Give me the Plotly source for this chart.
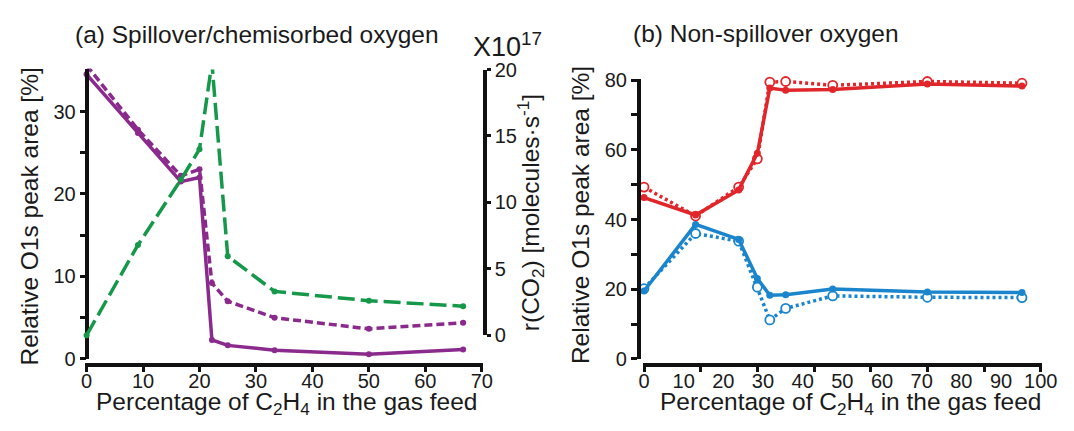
import plotly.graph_objects as go

# ---- data ----
x_feed = [0, 9.1, 16.7, 20, 22.2, 25, 33.3, 50, 66.7]

spill_solid = [34.5, 27.4, 21.5, 22.0, 2.3, 1.65, 1.07, 0.58, 1.15]
spill_dash = [35.6, 27.8, 22.2, 23.0, 9.2, 7.0, 5.0, 3.65, 4.4]
rco2 = [0.0, 6.8, 11.7, 14.0, 20.5, 5.95, 3.3, 2.6, 2.19]

red_solid = [46.3, 41.3, 48.5, 59.0, 77.7, 77.1, 77.3, 78.9, 78.3]
red_dot = [49.3, 41.0, 49.3, 57.4, 79.4, 79.6, 78.5, 79.6, 79.1]
blue_solid = [19.5, 38.6, 34.3, 23.1, 18.3, 18.4, 20.1, 19.2, 19.1]
blue_dot = [20.2, 36.0, 33.8, 20.6, 11.2, 14.5, 18.1, 17.7, 17.6]

xa_ticks = [0, 10, 20, 30, 40, 50, 60, 70]
ya_ticks = [0, 5, 10, 15, 20, 25, 30]
ya_text = ["0", "", "10", "", "20", "", "30"]
y2_ticks = [0, 5, 10, 15, 20]
yb_ticks = [0, 10, 20, 30, 40, 50, 60, 70, 80]
yb_text = ["0", "", "20", "", "40", "", "60", "", "80"]
xb_label_ticks = [0, 10, 20, 30, 40, 50, 60, 70, 80, 90, 100]

PURPLE = "#8a2a8c"
GREEN = "#16984a"
RED = "#e0262a"
BLUE = "#1a85cc"
FONT = "Liberation Sans, Arial, sans-serif"
TXT = "#1a1a1a"

W, H = 1074, 431
def px(x):
    return x / W
def py(y):
    return (H - y) / H

fig = go.Figure()

# left panel
fig.add_trace(go.Scatter(x=x_feed, y=spill_dash, xaxis="x", yaxis="y", mode="lines+markers",
                         line=dict(color=PURPLE, width=3.5, dash="8px,4px"), marker=dict(size=6, color=PURPLE),
                         cliponaxis=False, showlegend=False))
fig.add_trace(go.Scatter(x=x_feed, y=spill_solid, xaxis="x", yaxis="y", mode="lines+markers",
                         line=dict(color=PURPLE, width=3.5), marker=dict(size=6, color=PURPLE),
                         cliponaxis=False, showlegend=False))
fig.add_trace(go.Scatter(x=x_feed, y=rco2, xaxis="x", yaxis="y2", mode="lines+markers",
                         line=dict(color=GREEN, width=3.5, dash="17px,6px"), marker=dict(size=6, color=GREEN),
                         cliponaxis=False, showlegend=False))

# right panel
fig.add_trace(go.Scatter(x=x_feed, y=red_dot, xaxis="x3", yaxis="y3", mode="lines+markers",
                         line=dict(color=RED, width=3.5, dash="3px,3px"),
                         marker=dict(size=9, color="white", line=dict(color=RED, width=1.8)),
                         cliponaxis=False, showlegend=False))
fig.add_trace(go.Scatter(x=x_feed, y=red_solid, xaxis="x3", yaxis="y3", mode="lines+markers",
                         line=dict(color=RED, width=3.5), marker=dict(size=7, color=RED),
                         cliponaxis=False, showlegend=False))
fig.add_trace(go.Scatter(x=x_feed, y=blue_dot, xaxis="x3", yaxis="y3", mode="lines+markers",
                         line=dict(color=BLUE, width=3.5, dash="3px,3px"),
                         marker=dict(size=9, color="white", line=dict(color=BLUE, width=1.8)),
                         cliponaxis=False, showlegend=False))
fig.add_trace(go.Scatter(x=x_feed, y=blue_solid, xaxis="x3", yaxis="y3", mode="lines+markers",
                         line=dict(color=BLUE, width=3.5), marker=dict(size=7, color=BLUE),
                         cliponaxis=False, showlegend=False))
# invisible traces to activate the tick-label axes
fig.add_trace(go.Scatter(x=[0, 70], y=[None, None], xaxis="x5", yaxis="y", mode="lines",
                         showlegend=False, hoverinfo="skip"))
fig.add_trace(go.Scatter(x=[0, 100], y=[None, None], xaxis="x4", yaxis="y3", mode="lines",
                         showlegend=False, hoverinfo="skip"))

tickfont = dict(family=FONT, size=20, color=TXT)
axline = dict(showline=True, linecolor="#111", linewidth=3.5, showgrid=False, zeroline=False,
              ticks="outside", tickcolor="#111", tickwidth=3, tickfont=tickfont)
labelaxis = dict(showline=False, showgrid=False, zeroline=False, ticks="", ticklabelstandoff=2,
                 tickfont=tickfont, anchor="free", position=py(373.3))

fig.update_layout(
    width=W, height=H,
    margin=dict(l=0, r=0, t=0, b=0),
    paper_bgcolor="white", plot_bgcolor="rgba(0,0,0,0)",
    font=dict(family=FONT, color=TXT),
    xaxis=dict(domain=[px(83), px(488)], range=[-0.2, 70.2], anchor="free", position=py(373.3),
               tickvals=xa_ticks, showticklabels=False, ticklen=5, **axline),
    xaxis5=dict(overlaying="x", range=[-0.2, 70.2], tickvals=xa_ticks, **labelaxis),
    yaxis=dict(domain=[py(366.7), py(60.7)], range=[0, 35.2], anchor="free", position=px(85),
               tickvals=ya_ticks, ticktext=ya_text, ticklen=6, **axline),
    yaxis2=dict(domain=[py(341.7), py(61.7)], range=[0, 20], anchor="x", side="right",
                tickvals=y2_ticks, ticklen=4, **axline),
    xaxis3=dict(domain=[px(651), px(1057.5)], range=[-0.2, 70.2], anchor="free", position=py(373.3),
                tickvals=xa_ticks, showticklabels=False, ticklen=5, **axline),
    xaxis4=dict(overlaying="x3", range=[-0.28, 100.28], tickvals=xb_label_ticks, **labelaxis),
    yaxis3=dict(domain=[py(366.7), py(71.7)], range=[0, 80.3], anchor="free", position=px(646.7),
                tickvals=yb_ticks, ticktext=yb_text, ticklen=6, **axline),
)

tfont = dict(family=FONT, size=24.5, color=TXT)
afont = dict(family=FONT, size=24.5, color=TXT)
ann = []
ann.append(dict(text="(a) Spillover/chemisorbed oxygen", x=px(257.5), y=py(25), xref="paper", yref="paper",
                xanchor="center", yanchor="middle", showarrow=False, font=tfont))
ann.append(dict(text="(b) Non-spillover oxygen", x=px(776), y=py(24), xref="paper", yref="paper",
                xanchor="center", yanchor="middle", showarrow=False, font=tfont))
ann.append(dict(text="X10<sup>17</sup>", x=px(513), y=py(36), xref="paper", yref="paper",
                xanchor="center", yanchor="middle", showarrow=False, font=dict(family=FONT, size=27, color=TXT)))
ann.append(dict(text="Relative O1s peak area [%]", x=px(25.5), y=py(216.5), xref="paper", yref="paper",
                textangle=-90, xanchor="center", yanchor="middle", showarrow=False, font=afont))
ann.append(dict(text="Relative O1s peak area [%]", x=px(587), y=py(215), xref="paper", yref="paper",
                textangle=-90, xanchor="center", yanchor="middle", showarrow=False, font=afont))
ann.append(dict(text="r(CO<sub>2</sub>) [molecules·s<sup>-1</sup>]", x=px(536), y=py(213), xref="paper", yref="paper",
                textangle=-90, xanchor="center", yanchor="middle", showarrow=False, font=afont))
ann.append(dict(text="Percentage of C<sub>2</sub>H<sub>4</sub> in the gas feed", x=px(287.5), y=py(414),
                xref="paper", yref="paper", xanchor="center", yanchor="middle", showarrow=False, font=afont))
ann.append(dict(text="Percentage of C<sub>2</sub>H<sub>4</sub> in the gas feed", x=px(863), y=py(414),
                xref="paper", yref="paper", xanchor="center", yanchor="middle", showarrow=False, font=afont))
fig.update_layout(annotations=ann)

fig.write_html("out.html", config={"displayModeBar": False},
               post_script="document.body.style.margin='0';document.body.style.overflow='hidden';")
